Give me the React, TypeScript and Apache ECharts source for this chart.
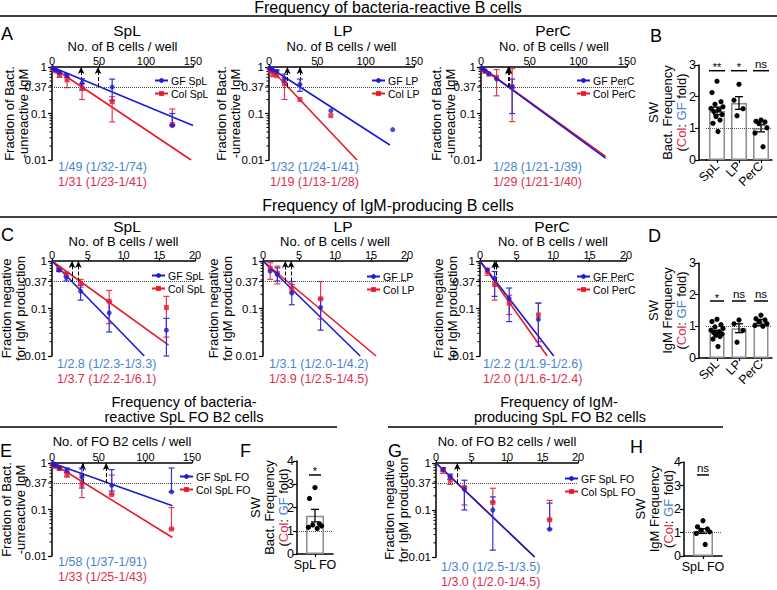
import React, { useEffect, useRef } from "react";
import * as echarts from "echarts";

const FONT = "'Liberation Sans', Arial, Helvetica, sans-serif";
const BLUE = "#1b1bcf";
const RED = "#e8192c";
const EBLUE = "#3232d6";
const ERED = "#e63a50";
const TBLUE = "#4a84cf";
const TRED = "#dc2f4f";

// ---------------- Limiting dilution data ----------------
// A: bacteria-reactive (cells / well)
const A_SPL_DOSE = [1, 2, 4, 8, 16, 32, 64, 128];
const A_SPL_GF = [0.95, 0.91, 0.86, 0.77, 0.66, 0.45, 0.37, 0.055];
const A_SPL_GF_LO = [null, null, null, 0.72, 0.6, 0.32, 0.19, null];
const A_SPL_GF_HI = [null, null, null, 0.8, 0.72, 0.56, 0.55, 0.1];
const A_SPL_COL = [0.93, 0.89, 0.82, 0.67, 0.53, 0.35, 0.18, 0.058];
const A_SPL_COL_LO = [null, null, null, 0.6, 0.36, 0.2, 0.066, null];
const A_SPL_COL_HI = [null, null, null, 0.75, 0.7, 0.44, 0.23, 0.125];
const A_SPL_GF_FIT = [[0, 1], [150, 0.055]];
const A_SPL_COL_FIT = [[0, 1], [148, 0.01]];
const A_SPL_ARROWS = [31, 49];

const A_LP_GF_DOSE = [1, 2, 4, 8, 16, 32, 64, 128];
const A_LP_GF = [0.95, 0.92, 0.86, 0.8, 0.55, 0.42, 0.115, 0.045];
const A_LP_GF_LO = [null, null, null, 0.72, 0.47, 0.3, null, null];
const A_LP_GF_HI = [null, null, null, 0.86, 0.7, 0.55, null, null];
const A_LP_COL_DOSE = [1, 2, 4, 8, 16, 32, 64];
const A_LP_COL = [0.9, 0.82, 0.72, 0.65, 0.44, 0.2, 0.09];
const A_LP_COL_LO = [null, null, 0.62, null, 0.2, null, null];
const A_LP_COL_HI = [null, null, 0.88, null, 0.6, null, null];
const A_LP_GF_FIT = [[0, 1], [125, 0.021]];
const A_LP_COL_FIT = [[0, 1], [91, 0.01]];
const A_LP_ARROWS = [19, 32];

const A_PERC_DOSE = [1, 2, 4, 8, 16, 32];
const A_PERC_GF = [0.95, 0.92, 0.84, 0.72, 0.55, 0.37];
const A_PERC_GF_LO = [null, null, null, null, null, 0.1];
const A_PERC_GF_HI = [null, null, null, null, null, 0.55];
const A_PERC_COL = [0.93, 0.88, 0.8, 0.7, 0.6, 0.38];
const A_PERC_COL_LO = [null, null, null, null, 0.24, 0.067];
const A_PERC_COL_HI = [null, null, null, null, 0.88, 0.92];
const A_PERC_GF_FIT = [[0, 1], [128, 0.011]];
const A_PERC_COL_FIT = [[0, 1], [128, 0.012]];
const A_PERC_ARROWS = [28, 29];

// C: IgM-producing (cells / well)
const C_DOSE = [1, 2, 4, 8, 16];
const C_SPL_GF = [0.645, 0.45, 0.23, 0.081, 0.035];
const C_SPL_GF_LO = [0.6, 0.38, 0.15, 0.032, 0.01];
const C_SPL_GF_HI = [0.68, 0.55, 0.31, 0.14, 0.062];
const C_SPL_COL = [0.68, 0.53, 0.34, 0.143, 0.105];
const C_SPL_COL_LO = [0.64, 0.48, 0.28, 0.048, 0.025];
const C_SPL_COL_HI = [0.7, 0.58, 0.41, 0.24, 0.18];
const C_SPL_GF_FIT = [[0, 1], [12.9, 0.01]];
const C_SPL_COL_FIT = [[0, 1], [16.3, 0.017]];
const C_SPL_ARROWS = [2.8, 3.7];

const C_LP_DOSE = [1, 2, 4, 8];
const C_LP_GF = [0.61, 0.52, 0.21, 0.105];
const C_LP_GF_LO = [null, 0.38, 0.12, 0.035];
const C_LP_GF_HI = [null, 0.72, 0.37, 0.16];
const C_LP_COL = [0.7, 0.55, 0.26, 0.16];
const C_LP_COL_LO = [0.41, 0.33, 0.22, 0.06];
const C_LP_COL_HI = [0.92, 0.78, 0.32, 0.37];
const C_LP_GF_FIT = [[0, 1], [13.5, 0.01]];
const C_LP_COL_FIT = [[0, 1], [15.7, 0.01]];
const C_LP_ARROWS = [3.1, 3.9];

const C_PERC_DOSE = [1, 2, 4, 8];
const C_PERC_GF = [0.65, 0.43, 0.163, 0.059];
const C_PERC_GF_LO = [null, 0.18, 0.053, 0.016];
const C_PERC_GF_HI = [null, 0.6, 0.27, 0.13];
const C_PERC_COL = [0.6, 0.32, 0.13, 0.073];
const C_PERC_COL_LO = [0.5, 0.15, 0.075, 0.02];
const C_PERC_COL_HI = [0.7, 0.45, 0.19, 0.13];
const C_PERC_GF_FIT = [[0, 1], [10.1, 0.01]];
const C_PERC_COL_FIT = [[0, 1], [9.2, 0.01]];
const C_PERC_ARROWS = [2.0, 2.2];

// E: bacteria-reactive SpL FO B2
const E_DOSE = [1, 2, 4, 8, 16, 32, 64, 128];
const E_GF = [0.97, 0.94, 0.9, 0.8, 0.7, 0.5, 0.33, 0.24];
const E_GF_LO = [null, null, null, null, 0.62, 0.29, 0.25, 0.24];
const E_GF_HI = [null, null, null, null, 0.78, 0.78, 0.72, 0.78];
const E_COL = [0.93, 0.88, 0.84, 0.76, 0.56, 0.35, 0.21, 0.038];
const E_COL_LO = [null, null, null, 0.7, 0.5, 0.18, 0.21, 0.038];
const E_COL_HI = [null, null, null, 0.8, 0.64, 0.56, 0.55, 0.11];
const E_GF_FIT = [[0, 1], [129, 0.12]];
const E_COL_FIT = [[0, 1], [129, 0.025]];
const E_ARROWS = [33, 58];

// G: IgM-producing SpL FO B2
const G_DOSE = [1, 2, 4, 8, 16];
const G_GF = [0.73, 0.51, 0.275, 0.1, 0.039];
const G_GF_LO = [0.68, 0.45, 0.1, 0.014, 0.039];
const G_GF_HI = [0.78, 0.58, 0.43, 0.19, 0.14];
const G_COL = [0.71, 0.43, 0.3, 0.145, 0.062];
const G_COL_LO = [0.6, 0.35, 0.128, 0.145, 0.062];
const G_COL_HI = [0.8, 0.52, 0.31, 0.29, 0.16];
const G_GF_FIT = [[0, 1], [13.9, 0.01]];
const G_COL_FIT = [[0, 1], [13.9, 0.01]];
const G_ARROWS = [3.0];

const LOG_MINOR_TICKS = [0.02, 0.03, 0.04, 0.05, 0.06, 0.07, 0.08, 0.09, 0.2, 0.3, 0.4, 0.5, 0.6, 0.7, 0.8, 0.9];
const REF_LINE = 0.37;

// ---------------- Fold-change (bar) data ----------------
const B_CATS = ["SpL", "LP", "PerC"];
const B_MEANS = [1.55, 1.8, 1.0];
const B_SEMS = [0.12, 0.2, 0.11];
const B_POINTS = [
  [2.49, 2.13, 1.84, 1.76, 1.68, 1.63, 1.58, 1.53, 1.44, 1.37, 1.26, 1.16, 0.9],
  [2.39, 1.89, 1.62, 1.4],
  [1.26, 1.22, 1.2, 1.15, 1.02, 0.85, 0.42],
];
const B_SIG = ["**", "*", "ns"];
const B_SIG_LEVEL = 2.82;

const D_CATS = ["SpL", "LP", "PerC"];
const D_MEANS = [0.8, 0.94, 1.12];
const D_SEMS = [0.07, 0.14, 0.1];
const D_POINTS = [
  [1.22, 1.15, 1.05, 0.98, 0.93, 0.88, 0.83, 0.8, 0.76, 0.72, 0.68, 0.6, 0.36],
  [1.2, 1.08, 0.87, 0.5],
  [1.35, 1.24, 1.2, 1.14, 1.08, 1.03, 1.0],
];
const D_SIG = ["*", "ns", "ns"];
const D_SIG_LEVEL = 1.8;

const F_CATS = ["SpL FO"];
const F_MEANS = [1.65];
const F_SEMS = [0.27];
const F_POINTS = [[2.86, 2.39, 1.3, 1.25, 1.2, 1.15, 1.1]];
const F_SIG = ["*"];
const F_SIG_LEVEL = 3.4;

const H_CATS = ["SpL FO"];
const H_MEANS = [1.06];
const H_SEMS = [0.1];
const H_POINTS = [[1.5, 1.24, 1.15, 1.1, 1.03, 0.96, 0.49]];
const H_SIG = ["ns"];
const H_SIG_LEVEL = 3.45;

const JITTER = [0, -5, 4, -2, 6, -6, 2, -3, 5, -1, 3, -4, 1];

// ---------------- helpers ----------------
type Arr = (number | null)[];
interface Pts { x: number[]; y: number[]; lo: Arr; hi: Arr }
interface LDPanel {
  rect: number[];
  xMax: number; xInterval: number; xName: string; xGap: number;
  yName: string; yNameX: number;
  gfName: string; colName: string;
  gf: Pts; col: Pts;
  gfFit: number[][]; colFit: number[][];
  arrows: number[];
  legend: number[];
  annot: string[]; annotPos: number[];
}

const txt = (text: string, x: number, y: number, size: number, fill = "#000", align = "center") => ({
  type: "text",
  x, y,
  silent: true,
  style: {
    text, fill,
    font: `${size}px ${FONT}`,
    textAlign: align, textVerticalAlign: "middle",
    align, verticalAlign: "middle",
  },
});

const richBase = { fontSize: 13, lineHeight: 14, fontFamily: FONT };
const RICH = {
  k: { ...richBase, fill: "#000", color: "#000" },
  r: { ...richBase, fill: TRED, color: TRED },
  b: { ...richBase, fill: TBLUE, color: TBLUE },
};

const vtxt = (text: string, x: number, y: number, rich?: any) => ({
  type: "text",
  x, y,
  rotation: Math.PI / 2,
  silent: true,
  style: {
    text, fill: "#000",
    font: `13px ${FONT}`,
    lineHeight: 14,
    textAlign: "center", textVerticalAlign: "middle",
    align: "center", verticalAlign: "middle",
    rich,
  },
});

const hline = (x1: number, x2: number, y: number) => ({
  type: "line",
  silent: true,
  shape: { x1, y1: y, x2, y2: y },
  style: { stroke: "#000", lineWidth: 1.5 },
});

function errRender(color: string, cap: number, width: number) {
  return (params: any, api: any) => {
    const x = api.value(0);
    const top = api.coord([x, api.value(2)]);
    const bot = api.coord([x, api.value(1)]);
    const st = { stroke: color, lineWidth: width };
    return {
      type: "group",
      children: [
        { type: "line", shape: { x1: top[0], y1: top[1], x2: bot[0], y2: bot[1] }, style: st },
        { type: "line", shape: { x1: top[0] - cap, y1: top[1], x2: top[0] + cap, y2: top[1] }, style: st },
        { type: "line", shape: { x1: bot[0] - cap, y1: bot[1], x2: bot[0] + cap, y2: bot[1] }, style: st },
      ],
    };
  };
}

function errData(p: Pts) {
  const out: number[][] = [];
  p.x.forEach((x, i) => {
    const hi = p.hi[i];
    const lo = p.lo[i];
    if (hi == null && lo == null) return;
    out.push([x, lo == null ? p.y[i] : lo, hi == null ? p.y[i] : hi]);
  });
  return out;
}

const axisLineStyle = { show: true, onZero: false, lineStyle: { color: "#000", width: 1.5 } };

function addLD(opt: any, p: LDPanel) {
  const gi = opt.grid.length;
  opt.grid.push({ left: p.rect[0], top: p.rect[1], width: p.rect[2], height: p.rect[3], outerBoundsMode: "none" });
  opt.xAxis.push({
    gridIndex: gi, type: "value", position: "top", min: 0, max: p.xMax, interval: p.xInterval,
    name: p.xName, nameLocation: "middle", nameGap: p.xGap, nameMoveOverlap: false,
    nameTextStyle: { fontSize: 13, color: "#000", fontFamily: FONT },
    axisLine: axisLineStyle,
    axisTick: { show: true, length: 3, lineStyle: { color: "#000", width: 1.2 } },
    axisLabel: { fontSize: 11, color: "#000", margin: 1, fontFamily: FONT },
    splitLine: { show: false },
  });
  opt.yAxis.push({
    gridIndex: gi, type: "log", logBase: 10, min: 0.01, max: 1,
    axisLine: axisLineStyle,
    axisTick: { show: true, length: 4, lineStyle: { color: "#000", width: 1.2 } },
    axisLabel: { fontSize: 11.5, color: "#000", margin: 5, fontFamily: FONT },
    splitLine: { show: false },
  });
  opt.graphic.push(vtxt(p.yName, p.yNameX, p.rect[1] + p.rect[3] / 2));
  const ax = { xAxisIndex: gi, yAxisIndex: gi };
  // minor ticks + 0.37 tick
  opt.series.push({
    type: "custom", ...ax, silent: true, z: 1,
    data: LOG_MINOR_TICKS.map((v) => [0, v, 2.5]).concat([[0, REF_LINE, 4]]),
    encode: { x: 0, y: 1 },
    renderItem: (params: any, api: any) => {
      const pt = api.coord([api.value(0), api.value(1)]);
      return { type: "line", shape: { x1: pt[0] - api.value(2), y1: pt[1], x2: pt[0], y2: pt[1] }, style: { stroke: "#000", lineWidth: 1 } };
    },
  });
  // fit lines (red below blue)
  opt.series.push({
    type: "line", name: p.colName, ...ax, data: p.colFit, symbol: "rect", symbolSize: 5, showSymbol: false,
    lineStyle: { color: RED, width: 1.6 }, itemStyle: { color: RED }, z: 2, silent: true,
  });
  opt.series.push({
    type: "line", name: p.gfName, ...ax, data: p.gfFit, symbol: "circle", symbolSize: 5, showSymbol: false,
    lineStyle: { color: BLUE, width: 1.6 }, itemStyle: { color: BLUE }, z: 3, silent: true,
  });
  // error bars
  opt.series.push({
    type: "custom", ...ax, silent: true, z: 4, data: errData(p.col), encode: { x: 0, y: [1, 2] },
    renderItem: errRender(ERED, 3, 1.2),
  });
  opt.series.push({
    type: "custom", ...ax, silent: true, z: 5, data: errData(p.gf), encode: { x: 0, y: [1, 2] },
    renderItem: errRender(EBLUE, 3, 1.2),
  });
  // points
  opt.series.push({
    type: "scatter", ...ax, silent: true, z: 6, symbol: "rect", symbolSize: 5,
    data: p.col.x.map((x, i) => [x, p.col.y[i]]), itemStyle: { color: RED },
  });
  const markData: any[] = [
    {
      yAxis: REF_LINE,
      lineStyle: { type: "dotted", color: "#444", width: 1 },
      label: { show: true, position: "start", formatter: "0.37", fontSize: 11.5, color: "#000", distance: 5, fontFamily: FONT },
    },
  ];
  p.arrows.forEach((a) => {
    markData.push([
      { coord: [a, REF_LINE], symbol: "none", lineStyle: { type: "dashed", color: "#000", width: 1 } },
      { coord: [a, 1], symbol: "arrow", symbolSize: [5, 7] },
    ]);
  });
  opt.series.push({
    type: "scatter", ...ax, silent: true, z: 7, symbol: "circle", symbolSize: 5,
    data: p.gf.x.map((x, i) => [x, p.gf.y[i]]), itemStyle: { color: BLUE },
    markLine: {
      silent: true, animation: false, symbol: ["none", "none"], label: { show: false },
      lineStyle: { type: "dashed", color: "#000", width: 1 },
      data: markData,
    },
  });
  opt.legend.push({
    left: p.legend[0], top: p.legend[1], orient: "vertical", padding: 0, itemGap: 2,
    itemWidth: 13, itemHeight: 6, selectedMode: false,
    textStyle: { fontSize: 10.5, color: "#000", fontFamily: FONT, padding: [0, 0, 0, -2] },
    data: [p.gfName, p.colName],
  });
  opt.graphic.push(txt(p.annot[0], p.annotPos[0], p.annotPos[1], 12.5, TBLUE, "left"));
  opt.graphic.push(txt(p.annot[1], p.annotPos[0], p.annotPos[1] + 15, 12.5, TRED, "left"));
}

interface BarPanel {
  rect: number[]; yOffset: number; yMax: number;
  cats: string[]; means: number[]; sems: number[]; points: number[][];
  sig: string[]; sigLevel: number; sigHalf: number;
  barWidth: number; rotate: number; kind: string; nameX: number; jit: number;
}

function addBar(opt: any, p: BarPanel) {
  const gi = opt.grid.length;
  opt.grid.push({ left: p.rect[0], top: p.rect[1], width: p.rect[2], height: p.rect[3], outerBoundsMode: "none" });
  opt.xAxis.push({
    gridIndex: gi, type: "category", data: p.cats,
    axisLine: axisLineStyle,
    axisTick: { show: true, alignWithLabel: true, length: 3, lineStyle: { color: "#000", width: 1.2 } },
    axisLabel: { fontSize: 12.5, color: "#000", margin: 4, rotate: p.rotate, interval: 0, fontFamily: FONT },
    splitLine: { show: false },
  });
  opt.yAxis.push({
    gridIndex: gi, type: "value", min: 0, max: p.yMax, interval: 1, offset: p.yOffset,
    axisLine: axisLineStyle,
    axisTick: { show: true, length: 4, lineStyle: { color: "#000", width: 1.2 } },
    axisLabel: { fontSize: 12.5, color: "#000", margin: 3, fontFamily: FONT },
    splitLine: { show: false },
  });
  if (p.yOffset > 0) {
    opt.graphic.push(hline(p.rect[0] - p.yOffset, p.rect[0] + 1, p.rect[1] + p.rect[3]));
  }
  opt.graphic.push(vtxt(`{k|SW}\n{k|${p.kind} Frequency}\n{k|(}{r|Col}{k|: }{b|GF}{k| fold)}`, p.nameX, p.rect[1] + p.rect[3] / 2, RICH));
  const ax = { xAxisIndex: gi, yAxisIndex: gi };
  opt.series.push({
    type: "bar", ...ax, silent: true, barWidth: p.barWidth, data: p.means, z: 2,
    itemStyle: { color: "#fff", borderColor: "#8c8c8c", borderWidth: 1.5 },
    markLine: {
      silent: true, animation: false, symbol: ["none", "none"], label: { show: false },
      lineStyle: { type: "dotted", color: "#555", width: 1 },
      data: [{ yAxis: 1 }],
    },
  });
  opt.series.push({
    type: "custom", ...ax, silent: true, z: 4,
    data: p.means.map((m, i) => [i, m - p.sems[i], m + p.sems[i]]), encode: { x: 0, y: [1, 2] },
    renderItem: errRender("#000", 4, 1.3),
  });
  const pts: number[][] = [];
  p.points.forEach((arr, ci) => arr.forEach((v, j) => pts.push([ci, v, JITTER[j % JITTER.length] * p.jit])));
  opt.series.push({
    type: "custom", ...ax, silent: true, z: 5, data: pts, encode: { x: 0, y: 1 },
    renderItem: (params: any, api: any) => {
      const c = api.coord([api.value(0), api.value(1)]);
      return { type: "circle", shape: { cx: c[0] + api.value(2), cy: c[1], r: 2.6 }, style: { fill: "#000" } };
    },
  });
  opt.series.push({
    type: "custom", ...ax, silent: true, z: 6,
    data: p.sig.map((s, i) => [i, p.sigLevel]), encode: { x: 0, y: 1 },
    itemStyle: { color: "#000" },
    renderItem: (params: any, api: any) => {
      const c = api.coord([api.value(0), api.value(1)]);
      const label = p.sig[params.dataIndex];
      const star = label.indexOf("*") >= 0;
      return {
        type: "group",
        children: [
          { type: "line", shape: { x1: c[0] - p.sigHalf, y1: c[1], x2: c[0] + p.sigHalf, y2: c[1] }, style: { stroke: "#000", lineWidth: 1.5 } },
          {
            type: "text", x: c[0], y: c[1] + (star ? 2 : -1),
            style: {
              text: label, fill: "#000", textFill: "#000", font: `${star ? 11 : 11.5}px ${FONT}`,
              textAlign: "center", textVerticalAlign: "bottom", align: "center", verticalAlign: "bottom",
            },
          },
        ],
      };
    },
  });
}

function pts(x: number[], y: number[], lo: Arr, hi: Arr): Pts {
  return { x, y, lo, hi };
}

function buildOption() {
  const opt: any = {
    animation: false,
    backgroundColor: "#fff",
    textStyle: { fontFamily: FONT },
    grid: [], xAxis: [], yAxis: [], series: [], legend: [], graphic: [],
  };
  const Y_BACT = "Fraction of Bact.\n-unreactive IgM";
  const Y_IGM = "Fraction negative\nfor IgM production";
  const X_B = "No. of B cells / well";
  const X_FO = "No. of FO B2 cells / well";

  addLD(opt, {
    rect: [52, 67, 141, 93], xMax: 150, xInterval: 50, xName: X_B, xGap: 14.5, yName: Y_BACT, yNameX: 16.5,
    gfName: "GF SpL", colName: "Col SpL",
    gf: pts(A_SPL_DOSE, A_SPL_GF, A_SPL_GF_LO, A_SPL_GF_HI),
    col: pts(A_SPL_DOSE, A_SPL_COL, A_SPL_COL_LO, A_SPL_COL_HI),
    gfFit: A_SPL_GF_FIT, colFit: A_SPL_COL_FIT, arrows: A_SPL_ARROWS,
    legend: [154, 75], annot: ["1/49 (1/32-1/74)", "1/31 (1/23-1/41)"], annotPos: [58, 167],
  });
  addLD(opt, {
    rect: [269, 67, 145, 93], xMax: 150, xInterval: 50, xName: X_B, xGap: 14.5, yName: Y_BACT, yNameX: 228,
    gfName: "GF LP", colName: "Col LP",
    gf: pts(A_LP_GF_DOSE, A_LP_GF, A_LP_GF_LO, A_LP_GF_HI),
    col: pts(A_LP_COL_DOSE, A_LP_COL, A_LP_COL_LO, A_LP_COL_HI),
    gfFit: A_LP_GF_FIT, colFit: A_LP_COL_FIT, arrows: A_LP_ARROWS,
    legend: [371, 75], annot: ["1/32 (1/24-1/41)", "1/19 (1/13-1/28)"], annotPos: [270, 167],
  });
  addLD(opt, {
    rect: [481, 67, 146, 93], xMax: 150, xInterval: 50, xName: X_B, xGap: 14.5, yName: Y_BACT, yNameX: 443,
    gfName: "GF PerC", colName: "Col PerC",
    gf: pts(A_PERC_DOSE, A_PERC_GF, A_PERC_GF_LO, A_PERC_GF_HI),
    col: pts(A_PERC_DOSE, A_PERC_COL, A_PERC_COL_LO, A_PERC_COL_HI),
    gfFit: A_PERC_GF_FIT, colFit: A_PERC_COL_FIT, arrows: A_PERC_ARROWS,
    legend: [576, 75], annot: ["1/28 (1/21-1/39)", "1/29 (1/21-1/40)"], annotPos: [493, 167],
  });
  addLD(opt, {
    rect: [52, 261, 143, 95], xMax: 20, xInterval: 5, xName: X_B, xGap: 13.5, yName: Y_IGM, yNameX: 13,
    gfName: "GF SpL", colName: "Col SpL",
    gf: pts(C_DOSE, C_SPL_GF, C_SPL_GF_LO, C_SPL_GF_HI),
    col: pts(C_DOSE, C_SPL_COL, C_SPL_COL_LO, C_SPL_COL_HI),
    gfFit: C_SPL_GF_FIT, colFit: C_SPL_COL_FIT, arrows: C_SPL_ARROWS,
    legend: [151, 270], annot: ["1/2.8 (1/2.3-1/3.3)", "1/3.7 (1/2.2-1/6.1)"], annotPos: [57, 364],
  });
  addLD(opt, {
    rect: [263, 261, 144, 95], xMax: 20, xInterval: 5, xName: X_B, xGap: 13.5, yName: Y_IGM, yNameX: 220,
    gfName: "GF LP", colName: "Col LP",
    gf: pts(C_LP_DOSE, C_LP_GF, C_LP_GF_LO, C_LP_GF_HI),
    col: pts(C_LP_DOSE, C_LP_COL, C_LP_COL_LO, C_LP_COL_HI),
    gfFit: C_LP_GF_FIT, colFit: C_LP_COL_FIT, arrows: C_LP_ARROWS,
    legend: [366, 271], annot: ["1/3.1 (1/2.0-1/4.2)", "1/3.9 (1/2.5-1/4.5)"], annotPos: [269, 364],
  });
  addLD(opt, {
    rect: [480, 261, 146, 95], xMax: 20, xInterval: 5, xName: X_B, xGap: 13.5, yName: Y_IGM, yNameX: 445,
    gfName: "GF PerC", colName: "Col PerC",
    gf: pts(C_PERC_DOSE, C_PERC_GF, C_PERC_GF_LO, C_PERC_GF_HI),
    col: pts(C_PERC_DOSE, C_PERC_COL, C_PERC_COL_LO, C_PERC_COL_HI),
    gfFit: C_PERC_GF_FIT, colFit: C_PERC_COL_FIT, arrows: C_PERC_ARROWS,
    legend: [576, 271], annot: ["1/2.2 (1/1.9-1/2.6)", "1/2.0 (1/1.6-1/2.4)"], annotPos: [483, 364],
  });
  addLD(opt, {
    rect: [52, 463, 140, 93], xMax: 150, xInterval: 50, xName: X_FO, xGap: 15, yName: Y_BACT, yNameX: 13,
    gfName: "GF SpL FO", colName: "Col SpL FO",
    gf: pts(E_DOSE, E_GF, E_GF_LO, E_GF_HI),
    col: pts(E_DOSE, E_COL, E_COL_LO, E_COL_HI),
    gfFit: E_GF_FIT, colFit: E_COL_FIT, arrows: E_ARROWS,
    legend: [179, 471], annot: ["1/58 (1/37-1/91)", "1/33 (1/25-1/43)"], annotPos: [58, 562],
  });
  addLD(opt, {
    rect: [436, 463, 142, 94], xMax: 20, xInterval: 5, xName: X_FO, xGap: 15, yName: Y_IGM, yNameX: 396,
    gfName: "GF SpL FO", colName: "Col SpL FO",
    gf: pts(G_DOSE, G_GF, G_GF_LO, G_GF_HI),
    col: pts(G_DOSE, G_COL, G_COL_LO, G_COL_HI),
    gfFit: G_GF_FIT, colFit: G_COL_FIT, arrows: G_ARROWS,
    legend: [564, 473], annot: ["1/3.0 (1/2.5-1/3.5)", "1/3.0 (1/2.0-1/4.5)"], annotPos: [441, 567],
  });

  addBar(opt, {
    rect: [706, 65, 66, 95], yOffset: 7, yMax: 3, cats: B_CATS, means: B_MEANS, sems: B_SEMS, points: B_POINTS,
    sig: B_SIG, sigLevel: B_SIG_LEVEL, sigHalf: 8, barWidth: 16, rotate: 45, kind: "Bact.", nameX: 667, jit: 1,
  });
  addBar(opt, {
    rect: [706, 263, 66, 95], yOffset: 7, yMax: 3, cats: D_CATS, means: D_MEANS, sems: D_SEMS, points: D_POINTS,
    sig: D_SIG, sigLevel: D_SIG_LEVEL, sigHalf: 7, barWidth: 15, rotate: 45, kind: "IgM", nameX: 667, jit: 1,
  });
  addBar(opt, {
    rect: [297, 461, 36, 93], yOffset: 0, yMax: 4, cats: F_CATS, means: F_MEANS, sems: F_SEMS, points: F_POINTS,
    sig: F_SIG, sigLevel: F_SIG_LEVEL, sigHalf: 6, barWidth: 18, rotate: 0, kind: "Bact.", nameX: 269, jit: 1.1,
  });
  addBar(opt, {
    rect: [684, 462, 38, 94], yOffset: 0, yMax: 4, cats: H_CATS, means: H_MEANS, sems: H_SEMS, points: H_POINTS,
    sig: H_SIG, sigLevel: H_SIG_LEVEL, sigHalf: 6, barWidth: 20, rotate: 0, kind: "IgM", nameX: 654, jit: 1.1,
  });

  // section titles and rules
  opt.graphic.push(txt("Frequency of bacteria-reactive B cells", 388, 7, 16));
  opt.graphic.push(hline(0, 777, 16));
  opt.graphic.push(txt("Frequency of IgM-producing B cells", 388, 205, 16));
  opt.graphic.push(hline(0, 777, 217));
  opt.graphic.push(txt("Frequency of bacteria-", 184, 402, 14.5));
  opt.graphic.push(txt("reactive SpL FO B2 cells", 184, 417, 14.5));
  opt.graphic.push(hline(0, 337, 427));
  opt.graphic.push(txt("Frequency of IgM-", 559, 402, 14.5));
  opt.graphic.push(txt("producing SpL FO B2 cells", 560, 417, 14.5));
  opt.graphic.push(hline(388, 723, 427));

  // panel subtitles
  [["SpL", 127, 30.5], ["LP", 343, 30.5], ["PerC", 553, 30.5], ["SpL", 127, 226.5], ["LP", 343, 226.5], ["PerC", 552, 226.5]].forEach((t: any) =>
    opt.graphic.push(txt(t[0], t[1], t[2], 15.5)));

  // panel letters
  [["A", 1, 34], ["B", 650, 36], ["C", 1, 235], ["D", 648, 236], ["E", 0, 451], ["F", 240, 451], ["G", 388, 451], ["H", 630, 447]].forEach((t: any) =>
    opt.graphic.push(txt(t[0], t[1], t[2], 18, "#000", "left")));

  return opt;
}

export default function App() {
  const ref = useRef<HTMLDivElement>(null);
  useEffect(() => {
    const chart = echarts.init(ref.current as HTMLDivElement, null, { renderer: "svg" });
    chart.setOption(buildOption());
    return () => chart.dispose();
  }, []);
  return <div ref={ref} style={{ position: "absolute", left: 0, top: 0, width: 777, height: 590, background: "#fff" }} />;
}
